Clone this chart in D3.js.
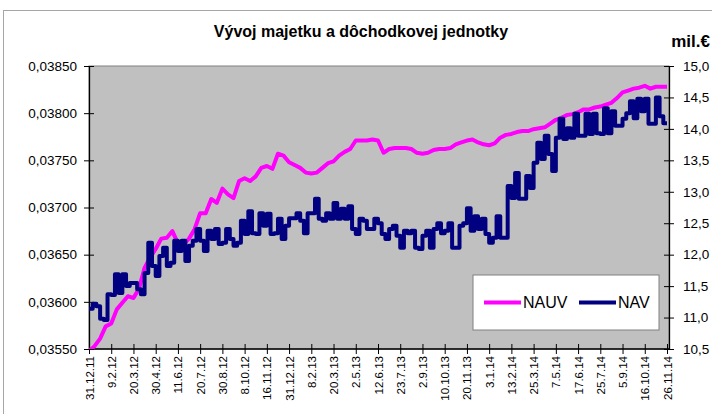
<!DOCTYPE html>
<html>
<head>
<meta charset="utf-8">
<script src="https://cdn.jsdelivr.net/npm/d3@7"></script>
<style>
body { margin: 0; background: #fff; }
text { font-family: "Liberation Sans", Arial, sans-serif; fill: #000; }
</style>
</head>
<body>
<div id="chart"></div>
<script>
var dateLabels = ["31.12.11", "9.2.12", "20.3.12", "30.4.12", "11.6.12", "20.7.12", "30.8.12",
    "8.10.12", "16.11.12", "31.12.12", "8.2.13", "20.3.13", "2.5.13", "12.6.13", "23.7.13",
    "2.9.13", "10.10.13", "20.11.13", "3.1.14", "13.2.14", "25.3.14", "7.5.14", "17.6.14",
    "25.7.14", "5.9.14", "16.10.14", "26.11.14"];

// NAUV (left axis), 4 readings per label step
var nauvValues = [
    0.03548, 0.03553, 0.03561, 0.03574, 0.03577, 0.03592, 0.03599, 0.03606, 0.03604, 0.03614,
    0.03636, 0.03647, 0.03656, 0.03667, 0.03668, 0.03675, 0.03662, 0.03661, 0.03667, 0.03677,
    0.03694, 0.03694, 0.03709, 0.03705, 0.03720, 0.03714, 0.03710, 0.03728, 0.03731, 0.03728,
    0.03733, 0.03742, 0.03744, 0.03741, 0.03757, 0.03755, 0.03748, 0.03745, 0.03742, 0.03737,
    0.03736, 0.03737, 0.03742, 0.03747, 0.03749, 0.03755, 0.03759, 0.03762, 0.03771, 0.03771,
    0.03771, 0.03772, 0.03771, 0.03758, 0.03762, 0.03763, 0.03763, 0.03763, 0.03762, 0.03758,
    0.03757, 0.03758, 0.03761, 0.03762, 0.03762, 0.03763, 0.03767, 0.03769, 0.03771, 0.03772,
    0.03769, 0.03767, 0.03766, 0.03768, 0.03774, 0.03777, 0.03778, 0.03780, 0.03781, 0.03781,
    0.03783, 0.03784, 0.03785, 0.03789, 0.03793, 0.03795, 0.03798, 0.03799, 0.03801, 0.03804,
    0.03804, 0.03806, 0.03807, 0.03809, 0.03811, 0.03816, 0.03822, 0.03824, 0.03826, 0.03827,
    0.03829, 0.03826, 0.03828, 0.03828, 0.03828];

// NAV in mil. EUR (right axis), 6 readings per label step
var navValues = [
    11.14, 11.22, 11.18, 10.98, 10.96, 11.37, 11.36, 11.69, 11.39, 11.69,
    11.50, 11.55, 11.55, 11.45, 11.37, 11.71, 12.19, 11.82, 11.66, 11.98,
    12.11, 11.82, 11.87, 12.22, 12.06, 12.22, 11.90, 12.14, 12.22, 12.41,
    12.22, 12.06, 12.38, 12.25, 12.41, 12.17, 12.19, 12.41, 12.25, 12.14,
    12.19, 12.54, 12.33, 12.69, 12.34, 12.33, 12.66, 12.46, 12.65, 12.33,
    12.34, 12.57, 12.25, 12.46, 12.58, 12.58, 12.66, 12.54, 12.34, 12.66,
    12.66, 12.89, 12.57, 12.54, 12.66, 12.57, 12.82, 12.57, 12.73, 12.57,
    12.77, 12.41, 12.33, 12.57, 12.54, 12.41, 12.41, 12.57, 12.50, 12.33,
    12.25, 12.41, 12.46, 12.30, 12.11, 12.38, 12.34, 12.38, 12.11, 12.09,
    12.30, 12.38, 12.11, 12.41, 12.50, 12.34, 12.38, 12.50, 12.11, 12.11,
    12.46, 12.50, 12.74, 12.38, 12.61, 12.41, 12.57, 12.33, 12.19, 12.27,
    12.61, 12.27, 12.27, 13.09, 12.90, 13.30, 12.89, 12.89, 13.25, 13.06,
    13.46, 13.78, 13.52, 13.89, 13.60, 13.33, 13.86, 14.16, 13.84, 14.01,
    13.86, 14.24, 13.89, 13.89, 14.24, 13.92, 14.24, 13.93, 13.92, 14.33,
    13.93, 14.28, 14.05, 14.05, 14.16, 14.25, 14.44, 14.17, 14.48, 14.28,
    14.48, 14.08, 14.08, 14.50, 14.20, 14.09, 14.09];

var leftTicks = [0.0355, 0.036, 0.0365, 0.037, 0.0375, 0.038, 0.0385];
var rightTicks = [10.5, 11, 11.5, 12, 12.5, 13, 13.5, 14, 14.5, 15];
var seriesNames = ["NAUV", "NAV"];
var seriesColors = ["#ff00ff", "#000080"];

var svg = d3.select("#chart")
        .append("svg")
        .attr("width", 712)
        .attr("height", 414),
    margin = {top: 66, left: 89},
    width = 580,
    height = 283,
    g = svg.append("g").attr("transform", "translate(" + margin.left + "," + margin.top + ")"),
    loc = d3.formatLocale({decimal: ",", thousands: " ", grouping: [3], currency: ["", ""]}),
    x = d3.scaleLinear()
        .domain([0, dateLabels.length - 1])
        .range([0, width - 2]),
    yLeft = d3.scaleLinear()
        .domain([0.0355, 0.0385])
        .range([height, 0]),
    yRight = d3.scaleLinear()
        .domain([10.5, 15])
        .range([height, 0]);

// chart frame
svg.append("rect")
    .attr("x", 3.5)
    .attr("y", 10.5)
    .attr("width", 760)
    .attr("height", 460)
    .attr("fill", "none")
    .attr("stroke", "#a6a6a6");

svg.append("text")
    .attr("x", 361)
    .attr("y", 37)
    .attr("text-anchor", "middle")
    .style("font-size", "16px")
    .style("font-weight", "bold")
    .text("Vývoj majetku a dôchodkovej jednotky");

svg.append("text")
    .attr("x", 710)
    .attr("y", 47)
    .attr("text-anchor", "end")
    .style("font-size", "17px")
    .style("font-weight", "bold")
    .text("mil.€");

g.append("rect")
    .attr("width", width)
    .attr("height", height)
    .attr("fill", "#c0c0c0")
    .attr("stroke", "#808080");

g.append("clipPath")
    .attr("id", "clip-plot")
    .append("rect")
    .attr("width", width)
    .attr("height", height);

// axes with ticks crossing the axis line
function styleAxis(sel, size) {
    sel.attr("font-family", null).attr("font-size", null);
    sel.select(".domain").attr("stroke", "#000").attr("stroke-width", 1.3);
    sel.selectAll(".tick line").attr("stroke", "#000");
    sel.selectAll(".tick text").style("font-size", size);
}

var leftAxis = g.append("g")
    .call(d3.axisLeft(yLeft).tickValues(leftTicks).tickSize(5).tickSizeOuter(0).tickPadding(7)
        .tickFormat(loc.format(".5f")))
    .call(styleAxis, "13.5px");
leftAxis.selectAll(".tick line").attr("x1", 5);

var rightAxis = g.append("g")
    .attr("transform", "translate(" + width + ",0)")
    .call(d3.axisRight(yRight).tickValues(rightTicks).tickSize(5).tickSizeOuter(0).tickPadding(9)
        .tickFormat(loc.format(".1f")))
    .call(styleAxis, "13.5px");
rightAxis.selectAll(".tick line").attr("x1", -5);

var bottomAxis = g.append("g")
    .attr("transform", "translate(0," + height + ")")
    .call(d3.axisBottom(x).tickValues(d3.range(dateLabels.length)).tickSize(5).tickSizeOuter(0)
        .tickFormat(function(i) { return dateLabels[i]; }))
    .call(styleAxis, "11.5px");
bottomAxis.select(".domain").attr("d", "M0,0H" + width);
bottomAxis.selectAll(".tick line").attr("y1", -5);
bottomAxis.selectAll(".tick text")
    .attr("transform", "rotate(-90)")
    .attr("x", -7)
    .attr("y", 0)
    .attr("dy", "0.35em")
    .style("text-anchor", "end");

// series
var nauvLine = d3.line()
    .x(function(d, i) { return x(i / 4); })
    .y(function(d) { return yLeft(d); });

var navLine = d3.line()
    .curve(d3.curveStepAfter)
    .x(function(d, i) { return x(i / 6); })
    .y(function(d) { return yRight(d); });

g.append("path")
    .datum(nauvValues)
    .attr("clip-path", "url(#clip-plot)")
    .attr("fill", "none")
    .attr("stroke", seriesColors[0])
    .attr("stroke-width", 4)
    .attr("stroke-linejoin", "round")
    .attr("d", nauvLine);

g.append("path")
    .datum(navValues)
    .attr("clip-path", "url(#clip-plot)")
    .attr("fill", "none")
    .attr("stroke", seriesColors[1])
    .attr("stroke-width", 4)
    .attr("stroke-linejoin", "round")
    .attr("d", navLine);

// legend
var legend = svg.append("g").attr("transform", "translate(473,275)");

legend.append("rect")
    .attr("width", 186)
    .attr("height", 55)
    .attr("fill", "#fff")
    .attr("stroke", "#808080");

var items = legend.selectAll(".item")
    .data(seriesNames)
    .enter()
    .append("g")
    .attr("class", "item")
    .attr("transform", function(d, i) { return "translate(" + (11 + i * 95) + ",27.5)"; });

items.append("line")
    .attr("x1", 0)
    .attr("x2", 37)
    .attr("stroke", function(d, i) { return seriesColors[i]; })
    .attr("stroke-width", 4);

items.append("text")
    .attr("x", 39)
    .attr("dy", "0.36em")
    .style("font-size", "16px")
    .text(function(d) { return d; });
</script>
</body>
</html>
